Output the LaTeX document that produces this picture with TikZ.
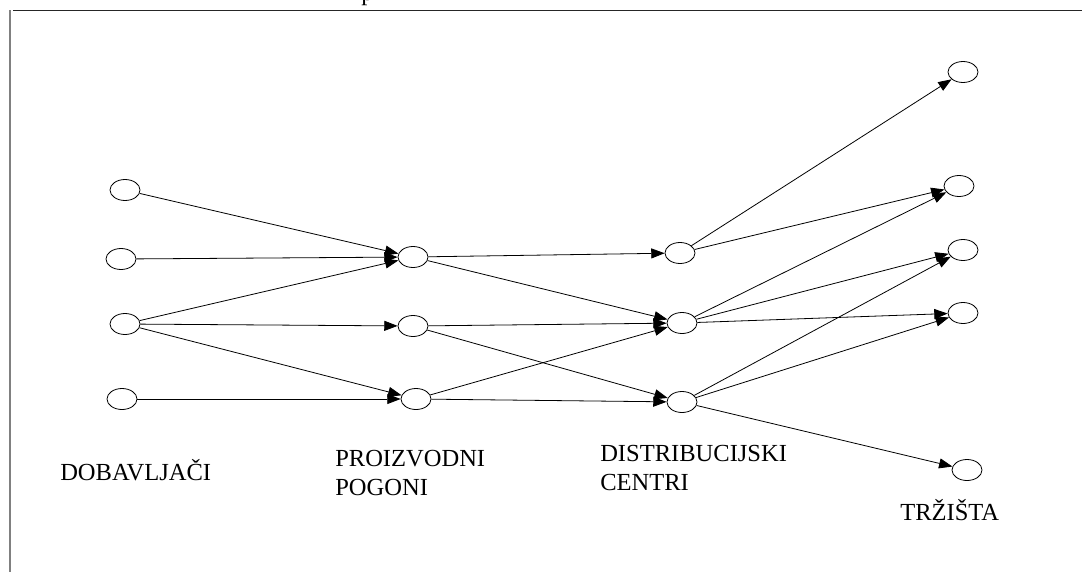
\documentclass[tikz,border=0pt]{standalone}
\usepackage{fontspec}
\setmainfont{Liberation Serif}
\usetikzlibrary{shapes.geometric,arrows.meta}

\begin{document}
\begin{tikzpicture}[x=0.75pt,y=-0.75pt,
	mjesto/.style = {draw, ellipse, line width=0.6pt, minimum width=22.5pt, minimum height=15.75pt, inner sep=0pt},
	tok/.style = {line width=0.6pt, -{Triangle[length=10pt,width=7.5pt]}},
	natpis/.style = {inner sep=0pt, align=left, font=\fontsize{18.4}{21.75}\selectfont}]
	\useasboundingbox (0,0) rectangle (1082,572);
	% okvir
	\draw [black!85, line width=0.8pt] (13,10.5) -- (1082,10.5);
	\draw [gray, line width=1.5pt] (9.5,10) -- (9.5,572);
	\node [natpis, anchor=base west] (vrh) at (361,0) {p};
	% dobavljaci
	\node [mjesto] (a1) at (125,190) {};
	\node [mjesto] (a2) at (121,259) {};
	\node [mjesto] (a3) at (125,324) {};
	\node [mjesto] (a4) at (122,399) {};
	% pogoni
	\node [mjesto] (b1) at (413,257) {};
	\node [mjesto] (b2) at (413,326) {};
	\node [mjesto] (b3) at (416,399) {};
	% centri
	\node [mjesto] (c1) at (680,253) {};
	\node [mjesto] (c2) at (682,323) {};
	\node [mjesto] (c3) at (682,402) {};
	% trzista
	\node [mjesto] (d1) at (963,72) {};
	\node [mjesto] (d2) at (959,186) {};
	\node [mjesto] (d3) at (963,250) {};
	\node [mjesto] (d4) at (963,313) {};
	\node [mjesto] (d5) at (967,470) {};
	\foreach \s/\t in {a1/b1, a2/b1, a3/b1, a3/b2, a3/b3, a4/b3,
		b1/c1, b1/c2, b2/c2, b2/c3, b3/c2, b3/c3,
		c1/d1, c1/d2, c2/d2, c2/d3, c2/d4, c3/d3, c3/d4, c3/d5}
		\draw [tok] (\s) -- (\t);
	% natpisi
	\node [natpis, anchor=base west] (dob) at (60,480) {DOBAVLJAČI};
	\node [natpis, anchor=north west] (pog) at (335,450) {PROIZVODNI\\POGONI};
	\node [natpis, anchor=north west] (cen) at (600,445) {DISTRIBUCIJSKI\\CENTRI};
	\node [natpis, anchor=base west] (trz) at (900,520) {TRŽIŠTA};
\end{tikzpicture}
\end{document}
